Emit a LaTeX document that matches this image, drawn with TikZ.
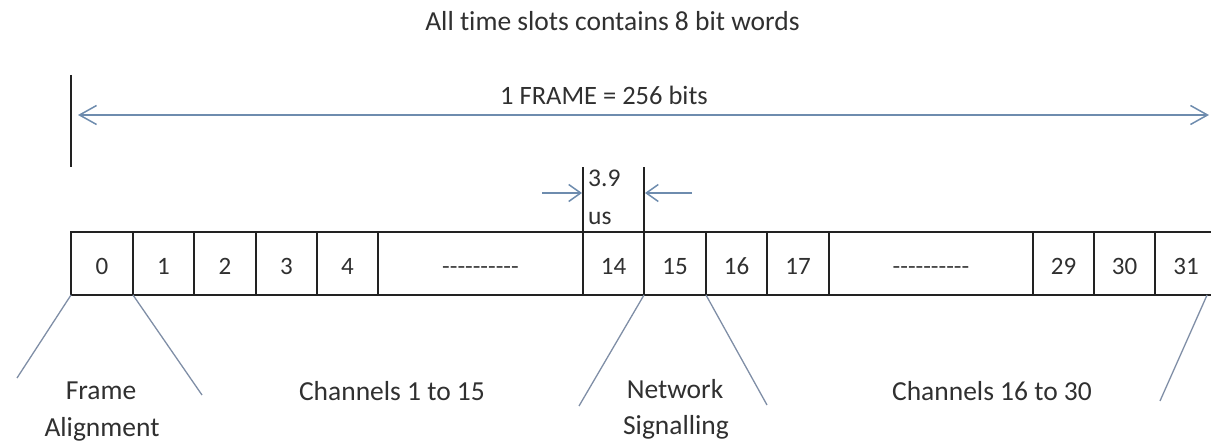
\documentclass[tikz,border=0pt]{standalone}
\usepackage{fontspec}
\setmainfont{Carlito}[Ligatures={TeX,NoCommon}]
\usetikzlibrary{arrows.meta,calc}
\definecolor{txt}{HTML}{303030}
\definecolor{boxline}{HTML}{222222}
\definecolor{arrowblue}{HTML}{6E8CAE}
\definecolor{pointer}{HTML}{7F8EA6}
\definecolor{dashgray}{HTML}{444444}
\tikzset{
  bigtip/.tip={Straight Barb[length=17pt, width=19pt, line width=1.5pt]},
  smalltip/.tip={Straight Barb[length=12pt, width=17pt, line width=1.5pt]}
}
\begin{document}
\begin{tikzpicture}[x=1pt,y=-1pt,
  lab/.style={font=\fontsize{27.5}{32}\selectfont, text=txt, inner sep=0pt, anchor=base},
  small/.style={font=\fontsize{26.5}{30}\selectfont, text=txt, inner sep=0pt, anchor=base},
  slotbox/.style={draw=boxline, line width=1.8pt, rectangle, inner sep=0pt, outer sep=0pt, minimum height=63pt},
  slotnum/.style={font=\fontsize{25}{29}\selectfont, text=txt, inner sep=0pt, anchor=base},
  dimline/.style={draw=arrowblue, line width=1.5pt},
  tick/.style={draw=boxline, line width=1.8pt},
  pointerline/.style={draw=pointer, line width=1.3pt}]
\useasboundingbox (0,0) rectangle (1211,444);

\def\dashrow{\textcolor{dashgray}{-{}-{}-{}-{}-{}-{}-{}-{}-{}-}}

% title
\node[lab] (title) at (612.5,31) {All t\kern0pt ime slots contains 8 bit words};

% frame length marker
\coordinate (barTop) at (71,75);
\coordinate (barBot) at (71,167);
\draw[tick] (barTop) -- (barBot);
\coordinate (frameL) at (78,115);
\coordinate (frameR) at (1209,115);
\draw[dimline, bigtip-bigtip] (frameL) -- (frameR);
\node[small] (framelabel) at (604,104.3) {1 FRAME = 256 bits};

% the 32 time slots
\foreach \i/\l/\r/\t in {0/71/133/0, 1/133/194/1, 2/194/256/2, 3/256/317/3,
    4/317/378/4, 5/378/583/\dashrow, 6/583/644/14, 7/644/706/15, 8/706/767/16,
    9/767/829/17, 10/829/1033/\dashrow, 11/1033/1094/29, 12/1094/1155/30,
    13/1155/1217/31}{
  \node[slotbox, minimum width={\r pt-\l pt}] (c\i) at ({(\l+\r)/2},263.5) {};
  \node[slotnum] (t\i) at ({(\l+\r)/2},274) {\t};
}

% duration of one slot
\coordinate (slotTopL) at (583,167);
\coordinate (slotTopR) at (644,167);
\draw[tick] (c6.north west) -- (slotTopL);
\draw[tick] (c6.north east) -- (slotTopR);
\coordinate (inL) at (542,193);
\coordinate (tipL) at (582,193);
\coordinate (inR) at (692,193);
\coordinate (tipR) at (645,193);
\draw[dimline, -smalltip] (inL) -- (tipL);
\draw[dimline, -smalltip] (inR) -- (tipR);
\node[small, anchor=base west, font=\fontsize{25.5}{30}\selectfont] (dur1) at (588,186) {3.9};
\node[small, anchor=base west, font=\fontsize{25.5}{30}\selectfont] (dur2) at (588,224) {us};

% pointers to the groups of slots
\coordinate (p0) at (17,378);
\coordinate (p1) at (202,395);
\coordinate (p15a) at (579,406);
\coordinate (p15b) at (767,405);
\coordinate (p31) at (1160,401);
\draw[pointerline] (c0.south west) -- (p0);
\draw[pointerline] (c1.south west) -- (p1);
\draw[pointerline] (c7.south west) -- (p15a);
\draw[pointerline] (c8.south west) -- (p15b);
\draw[pointerline] ($(c13.south west)!0.84!(c13.south east)$) -- (p31);

% group labels
\node[lab] (fa1) at (101,399) {Frame};
\node[lab] (fa2) at (102,436.7) {Alignment};
\node[lab] (ch1) at (392,400) {Channels 1 to 15};
\node[lab] (ns1) at (675,398.3) {Network};
\node[lab] (ns2) at (676,434) {Signalling};
\node[lab] (ch2) at (992,400) {Channels 16 to 30};
\end{tikzpicture}
\end{document}
